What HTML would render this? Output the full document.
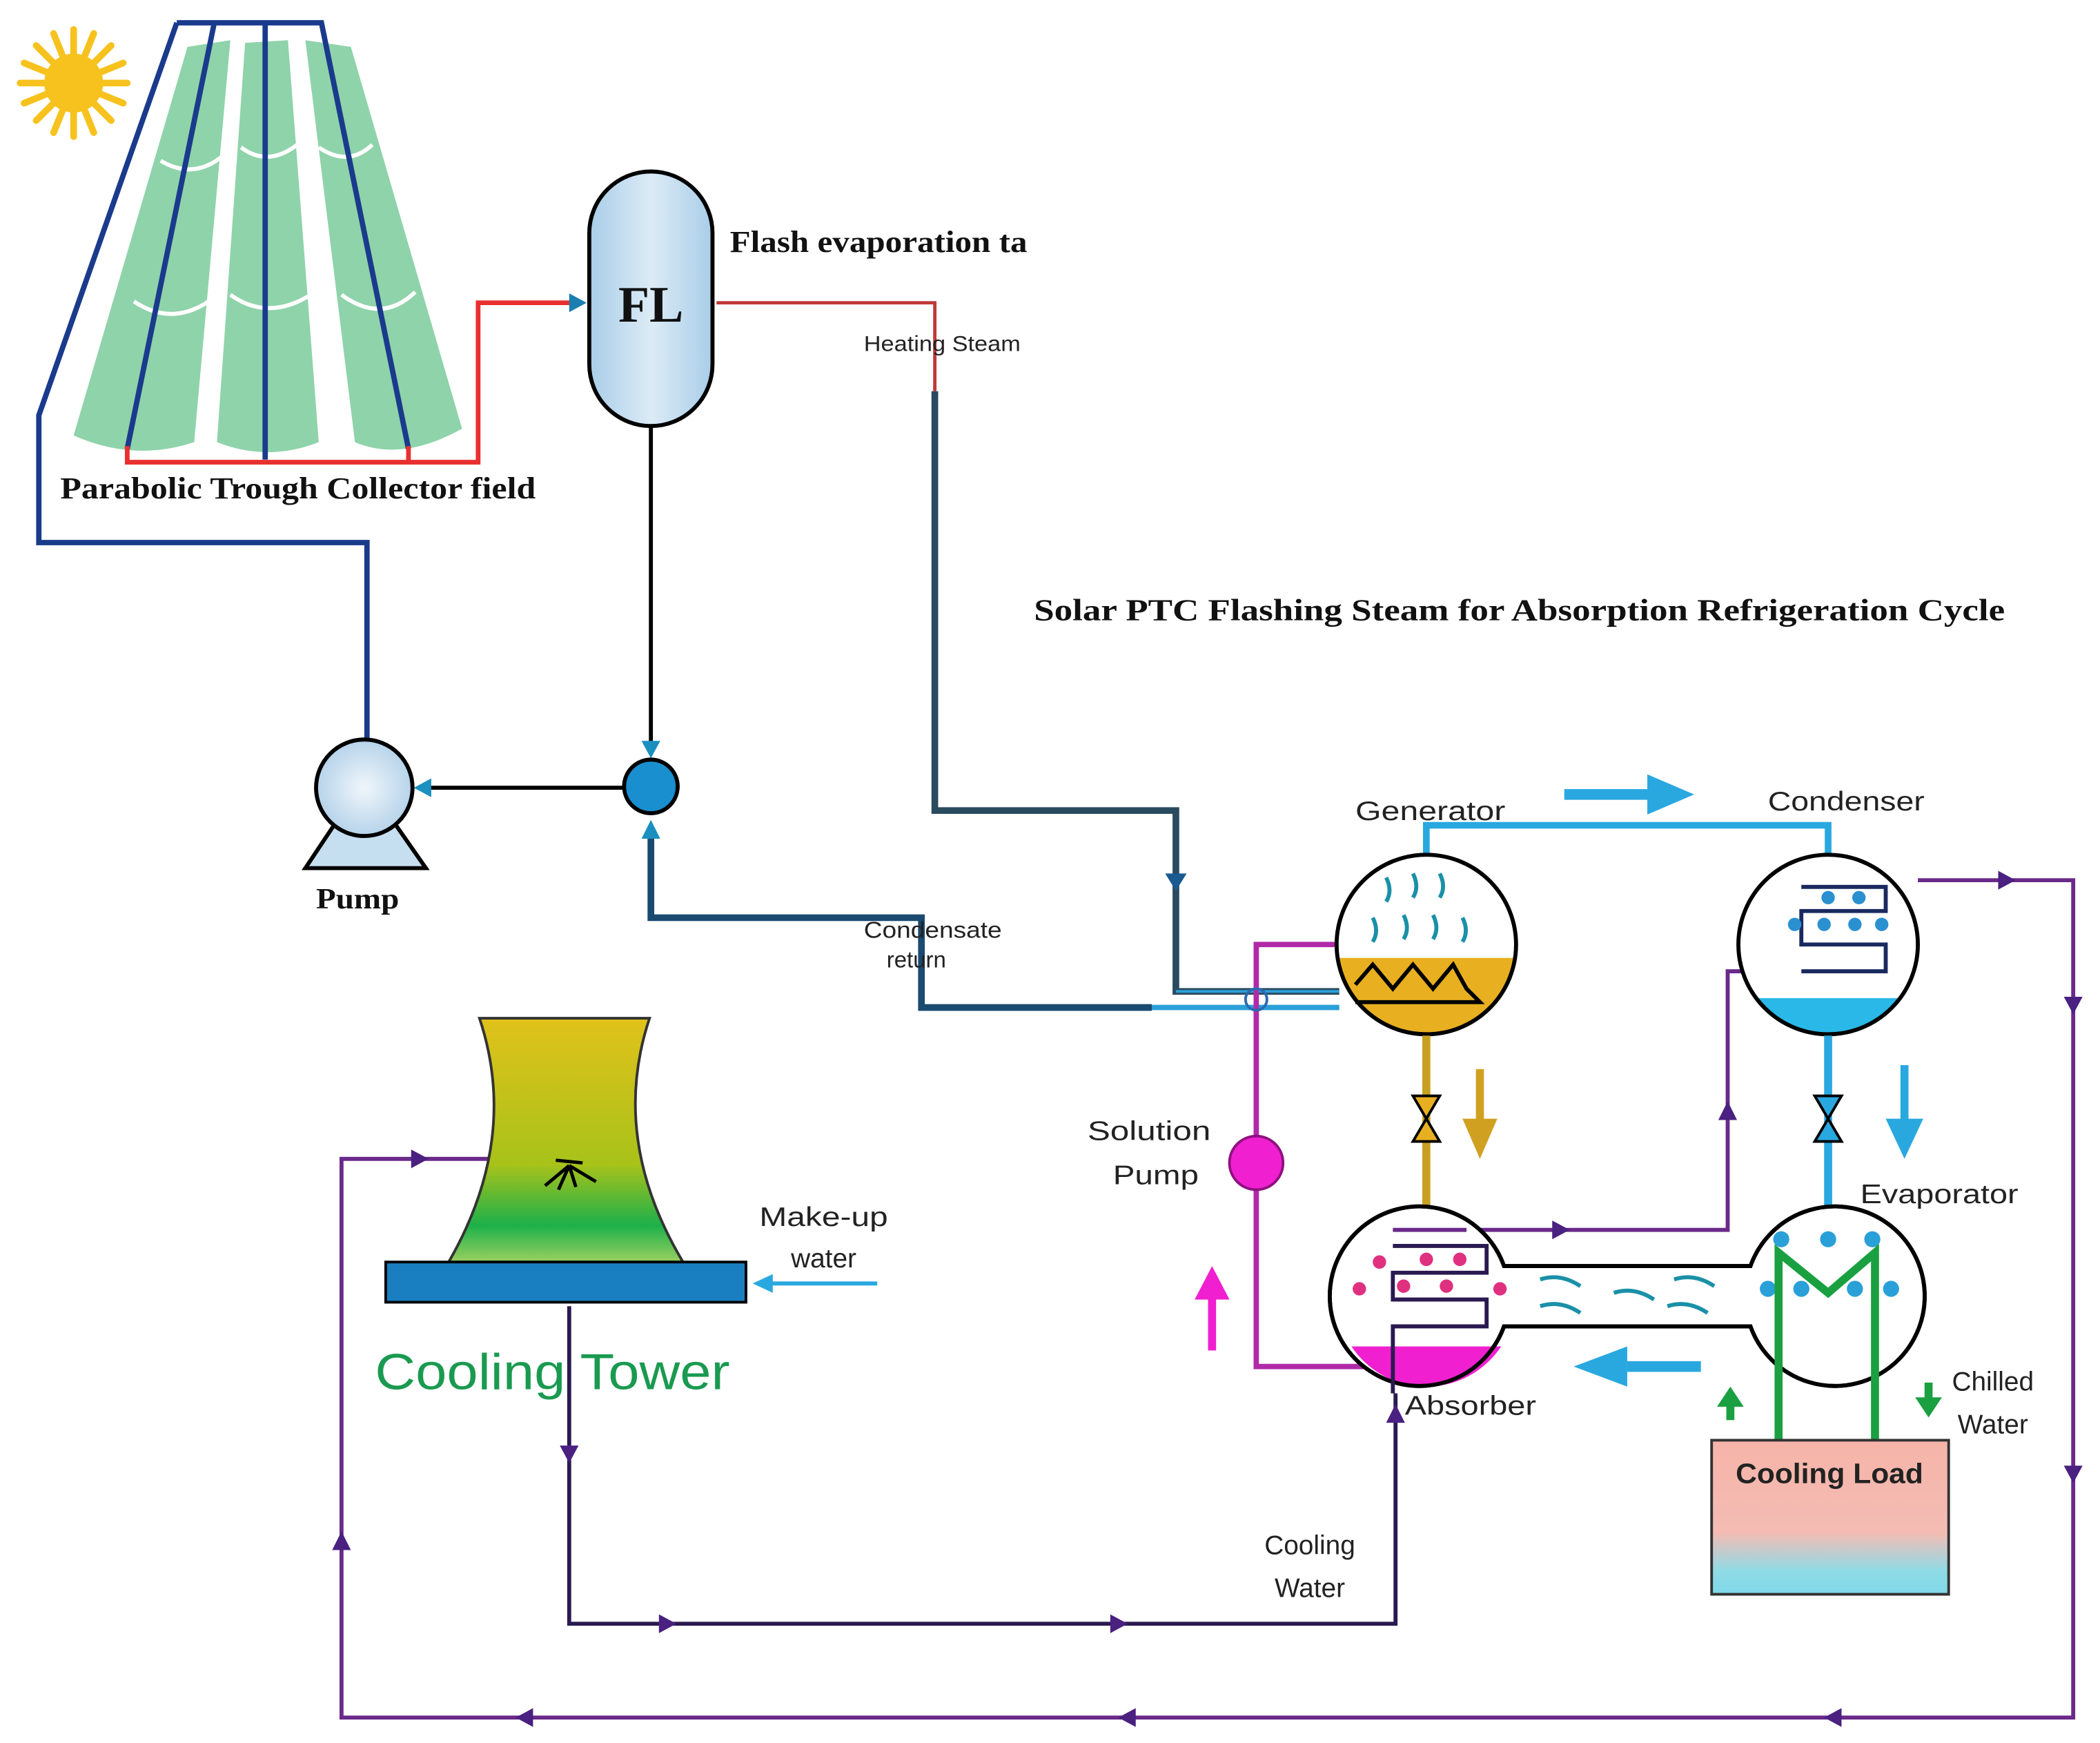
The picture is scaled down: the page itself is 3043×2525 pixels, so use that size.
<!DOCTYPE html>
<html><head><meta charset="utf-8"><style>
html,body{margin:0;padding:0;background:#fff}
svg{display:block}
.s{font-family:"Liberation Serif",serif;font-weight:bold;fill:#111}
.a{font-family:"Liberation Sans",sans-serif;fill:#222}
</style></head><body>
<svg width="3043" height="2525" viewBox="0 0 1568 1301" preserveAspectRatio="none" xmlns="http://www.w3.org/2000/svg">
<defs>
<linearGradient id="fl" x1="0" x2="1"><stop offset="0" stop-color="#a9cde8"/><stop offset="0.5" stop-color="#dcebf6"/><stop offset="1" stop-color="#a9cde8"/></linearGradient>
<linearGradient id="ct" x1="0" y1="0" x2="0" y2="1"><stop offset="0" stop-color="#e0c21a"/><stop offset="0.6" stop-color="#a8c21a"/><stop offset="0.85" stop-color="#1db04a"/><stop offset="1" stop-color="#9ad060"/></linearGradient>
<linearGradient id="cl" x1="0" y1="0" x2="0" y2="1"><stop offset="0" stop-color="#f6b4a8"/><stop offset="0.6" stop-color="#f4bcb4"/><stop offset="0.85" stop-color="#8fdbe6"/><stop offset="1" stop-color="#7fd8e8"/></linearGradient>
<radialGradient id="pp"><stop offset="0" stop-color="#f0f6fb"/><stop offset="1" stop-color="#b6d3ea"/></radialGradient>
<clipPath id="gb"><circle cx="1065" cy="705" r="67"/></clipPath>
<clipPath id="cb"><circle cx="1365" cy="705" r="67"/></clipPath>
<clipPath id="ab"><circle cx="1065" cy="968" r="67"/></clipPath>
</defs>

<!-- sun -->
<g fill="#f7c21e">
<circle cx="55" cy="62" r="22"/>
<g stroke="#f7c21e" stroke-width="5" stroke-linecap="round">
<line x1="55" y1="22" x2="55" y2="102"/><line x1="15" y1="62" x2="95" y2="62"/>
<line x1="27" y1="34" x2="83" y2="90"/><line x1="83" y1="34" x2="27" y2="90"/>
<line x1="40" y1="25" x2="70" y2="99"/><line x1="70" y1="25" x2="40" y2="99"/>
<line x1="18" y1="47" x2="92" y2="77"/><line x1="92" y1="47" x2="18" y2="77"/>
</g></g>

<!-- troughs -->
<g fill="#8fd3aa">
<path d="M140,35 L172,30 L145,330 Q100,345 55,325 Z"/>
<path d="M183,32 L215,30 L238,330 Q200,345 162,330 Z"/>
<path d="M228,30 L262,35 L345,320 Q300,345 265,330 Z"/>
</g>
<g stroke="#fff" stroke-width="3" fill="none">
<path d="M120,120 Q145,135 168,115"/><path d="M100,225 Q130,245 160,222"/>
<path d="M180,110 Q200,125 222,108"/><path d="M172,220 Q200,240 232,220"/>
<path d="M238,110 Q260,125 278,108"/><path d="M255,220 Q285,242 310,218"/>
</g>
<g stroke="#1a3a8c" stroke-width="4" fill="none">
<polyline points="132,17 240,17 305,335"/>
<polyline points="132,17 29,310 29,405 274,405 274,552"/>
<line x1="160" y1="17" x2="95" y2="335"/>
<line x1="198" y1="17" x2="198" y2="343"/>
</g>
<polyline points="95,333 95,345 357,345 357,226 428,226" stroke="#e83030" stroke-width="3.5" fill="none"/>
<line x1="305" y1="333" x2="305" y2="345" stroke="#e83030" stroke-width="3.5"/>
<polygon points="438,226 425,219 425,233" fill="#1a7fb0"/>
<text x="45" y="372" class="s" font-size="23" textLength="355" lengthAdjust="spacingAndGlyphs">Parabolic Trough Collector field</text>

<!-- FL tank -->
<rect x="440" y="128" width="92" height="190" rx="46" fill="url(#fl)" stroke="#000" stroke-width="3"/>
<text x="486" y="240" class="s" font-size="38" text-anchor="middle">FL</text>
<text x="545" y="188" class="s" font-size="23" textLength="222" lengthAdjust="spacingAndGlyphs">Flash evaporation ta</text>
<polyline points="535,226 698,226 698,292" stroke="#c03838" stroke-width="2.5" fill="none"/>
<text x="645" y="262" class="a" font-size="16" textLength="117" lengthAdjust="spacingAndGlyphs">Heating Steam</text>
<polyline points="698,292 698,605 878,605 878,740 1000,740" stroke="#2a4a60" stroke-width="5" fill="none"/>
<polygon points="878,665 870,652 886,652" fill="#1a5a90"/>
<line x1="486" y1="318" x2="486" y2="560" stroke="#000" stroke-width="3"/>
<polygon points="486,566 479,553 493,553" fill="#1a8fc0"/>
<circle cx="486" cy="587" r="20" fill="#1a8fd0" stroke="#000" stroke-width="3"/>
<line x1="466" y1="588" x2="318" y2="588" stroke="#000" stroke-width="3"/>
<polygon points="309,588 322,581 322,595" fill="#1a8fc0"/>
<polygon points="250,615 295,615 318,648 228,648" fill="#c6dff0" stroke="#000" stroke-width="3"/>
<circle cx="272" cy="588" r="36" fill="url(#pp)" stroke="#000" stroke-width="3"/>
<text x="236" y="678" class="s" font-size="22" textLength="62" lengthAdjust="spacingAndGlyphs">Pump</text>
<polyline points="486,620 486,685 688,685 688,752 860,752" stroke="#1a4a70" stroke-width="5" fill="none"/>
<polygon points="486,612 479,626 493,626" fill="#1a8fc0"/>
<line x1="860" y1="752" x2="1000" y2="752" stroke="#2aa0d8" stroke-width="4"/>
<line x1="878" y1="740" x2="1000" y2="740" stroke="#2aa0d8" stroke-width="2"/>
<text x="645" y="700" class="a" font-size="17" textLength="103" lengthAdjust="spacingAndGlyphs">Condensate</text>
<text x="662" y="722" class="a" font-size="17">return</text>

<text x="772" y="463" class="s" font-size="23" textLength="725" lengthAdjust="spacingAndGlyphs">Solar PTC Flashing Steam for Absorption Refrigeration Cycle</text>

<g stroke="#6a2a8a" stroke-width="3" fill="none">
<polyline points="1432,657 1548,657 1548,1282 255,1282 255,865 415,865"/>
<polyline points="1095,918 1290,918 1290,725 1345,725"/>
</g>
<polyline points="425,975 425,1212 1042,1212 1042,1040" stroke="#2a1a50" stroke-width="3" fill="none"/>
<g fill="#4a2080">
<polygon points="1505,657 1492,650 1492,664"/><polygon points="1548,757 1541,744 1555,744"/><polygon points="1548,1107 1541,1094 1555,1094"/>
<polygon points="1362,1282 1375,1275 1375,1289"/><polygon points="835,1282 848,1275 848,1289"/><polygon points="385,1282 398,1275 398,1289"/>
<polygon points="255,1143 248,1157 262,1157"/><polygon points="320,865 307,858 307,872"/>
<polygon points="425,1092 418,1079 432,1079"/><polygon points="505,1212 492,1205 492,1219"/><polygon points="842,1212 829,1205 829,1219"/>
<polygon points="1042,1048 1035,1062 1049,1062"/><polygon points="1172,918 1159,911 1159,925"/><polygon points="1290,822 1283,836 1297,836"/><polygon points="1335,725 1322,718 1322,732"/>
</g>

<polyline points="1065,640 1065,616 1365,616 1365,640" stroke="#29a8e0" stroke-width="5" fill="none"/>
<line x1="1168" y1="593" x2="1235" y2="593" stroke="#29a8e0" stroke-width="8"/>
<polygon points="1265,593 1230,578 1230,608" fill="#29a8e0"/>
<text x="1012" y="612" class="a" font-size="20" textLength="112" lengthAdjust="spacingAndGlyphs">Generator</text>
<text x="1320" y="605" class="a" font-size="20" textLength="117" lengthAdjust="spacingAndGlyphs">Condenser</text>

<polyline points="1000,705 938,705 938,1020 1030,1020" stroke="#b02aa8" stroke-width="4" fill="none"/>
<circle cx="938" cy="868" r="20" fill="#f020d0" stroke="#901080" stroke-width="2"/>
<line x1="905" y1="1008" x2="905" y2="965" stroke="#f020d0" stroke-width="6"/>
<polygon points="905,945 892,970 918,970" fill="#f020d0"/>
<text x="858" y="851" class="a" font-size="20" text-anchor="middle" textLength="92" lengthAdjust="spacingAndGlyphs">Solution</text>
<text x="863" y="884" class="a" font-size="20" text-anchor="middle" textLength="64" lengthAdjust="spacingAndGlyphs">Pump</text>

<circle cx="1065" cy="705" r="67" fill="#fff"/>
<rect x="995" y="715" width="140" height="60" fill="#e8b020" clip-path="url(#gb)"/>
<polyline points="1012,735 1025,720 1040,738 1055,720 1070,738 1085,720 1095,738 1105,748 1012,748" stroke="#000" stroke-width="3" fill="none"/>
<g stroke="#1a90a8" stroke-width="3" fill="none">
<path d="M1035,655 q5,10 0,18"/><path d="M1055,652 q5,10 0,18"/><path d="M1075,652 q5,10 0,18"/>
<path d="M1025,685 q5,10 0,18"/><path d="M1048,683 q5,10 0,18"/><path d="M1070,683 q5,10 0,18"/><path d="M1092,685 q5,10 0,18"/>
</g>
<circle cx="1065" cy="705" r="67" fill="none" stroke="#000" stroke-width="3"/>
<circle cx="938" cy="746" r="8" fill="none" stroke="#2a6ab0" stroke-width="2"/>

<circle cx="1365" cy="705" r="67" fill="#fff"/>
<rect x="1295" y="745" width="140" height="40" fill="#2ab8e8" clip-path="url(#cb)"/>
<polyline points="1345,725 1408,725 1408,705 1345,705 1345,680 1408,680 1408,662 1345,662" stroke="#1a2a60" stroke-width="3" fill="none"/>
<g fill="#2a90d0"><circle cx="1365" cy="670" r="5"/><circle cx="1388" cy="670" r="5"/><circle cx="1340" cy="690" r="5"/><circle cx="1362" cy="690" r="5"/><circle cx="1385" cy="690" r="5"/><circle cx="1405" cy="690" r="5"/></g>
<circle cx="1365" cy="705" r="67" fill="none" stroke="#000" stroke-width="3"/>

<line x1="1065" y1="773" x2="1065" y2="902" stroke="#c8a020" stroke-width="6"/>
<polygon points="1055,818 1075,818 1055,852 1075,852" fill="#e8b020" stroke="#000" stroke-width="2"/>
<line x1="1105" y1="798" x2="1105" y2="840" stroke="#d0a020" stroke-width="6"/>
<polygon points="1105,865 1092,835 1118,835" fill="#d0a020"/>
<line x1="1365" y1="773" x2="1365" y2="902" stroke="#29a8e0" stroke-width="6"/>
<polygon points="1355,818 1375,818 1355,852 1375,852" fill="#29a8e0" stroke="#000" stroke-width="2"/>
<line x1="1422" y1="795" x2="1422" y2="840" stroke="#29a8e0" stroke-width="6"/>
<polygon points="1422,865 1408,835 1436,835" fill="#29a8e0"/>

<path d="M1123,945 L1307,945 A67,67 0 1 1 1307,990 L1123,990 A67,67 0 1 1 1123,945 Z" fill="#fff" stroke="#000" stroke-width="3"/>
<rect x="995" y="1005" width="140" height="40" fill="#f020d0" clip-path="url(#ab)"/>
<path d="M1123,945 L1307,945 A67,67 0 1 1 1307,990 L1123,990 A67,67 0 1 1 1123,945 Z" fill="none" stroke="#000" stroke-width="3"/>
<polyline points="1040,1040 1040,990 1110,990 1110,970 1040,970 1040,950 1110,950 1110,930 1040,930" stroke="#2a1a50" stroke-width="3" fill="none"/>
<line x1="1040" y1="918" x2="1095" y2="918" stroke="#6a2a8a" stroke-width="3"/>
<g fill="#e03080"><circle cx="1030" cy="942" r="5"/><circle cx="1065" cy="940" r="5"/><circle cx="1090" cy="940" r="5"/><circle cx="1015" cy="962" r="5"/><circle cx="1048" cy="960" r="5"/><circle cx="1080" cy="960" r="5"/><circle cx="1120" cy="962" r="5"/></g>
<g stroke="#1a90a8" stroke-width="3" fill="none">
<path d="M1150,955 q15,-5 30,5"/><path d="M1205,965 q15,-5 30,5"/><path d="M1250,955 q15,-5 30,5"/><path d="M1150,975 q15,-5 30,5"/><path d="M1245,975 q15,-5 30,5"/>
</g>
<g fill="#2aa0d8"><circle cx="1330" cy="925" r="6"/><circle cx="1365" cy="925" r="6"/><circle cx="1398" cy="925" r="6"/><circle cx="1320" cy="962" r="6"/><circle cx="1345" cy="962" r="6"/><circle cx="1385" cy="962" r="6"/><circle cx="1412" cy="962" r="6"/></g>
<polyline points="1328,1075 1328,935 1365,965 1400,935 1400,1075" stroke="#1aa040" stroke-width="6" fill="none"/>
<line x1="1270" y1="1020" x2="1215" y2="1020" stroke="#29a8e0" stroke-width="8"/>
<polygon points="1175,1020 1215,1005 1215,1035" fill="#29a8e0"/>

<rect x="1278" y="1075" width="177" height="115" fill="url(#cl)" stroke="#333" stroke-width="2"/>
<text x="1366" y="1107" class="a" font-size="21" text-anchor="middle" font-weight="bold" textLength="140" lengthAdjust="spacingAndGlyphs">Cooling Load</text>
<line x1="1292" y1="1060" x2="1292" y2="1048" stroke="#1aa040" stroke-width="6"/><polygon points="1292,1035 1282,1050 1302,1050" fill="#1aa040"/>
<line x1="1440" y1="1032" x2="1440" y2="1045" stroke="#1aa040" stroke-width="6"/><polygon points="1440,1058 1430,1043 1450,1043" fill="#1aa040"/>
<text x="1488" y="1038" class="a" font-size="20" text-anchor="middle">Chilled</text>
<text x="1488" y="1070" class="a" font-size="20" text-anchor="middle">Water</text>
<text x="1448" y="898" class="a" font-size="20" text-anchor="middle" textLength="118" lengthAdjust="spacingAndGlyphs">Evaporator</text>
<text x="1098" y="1056" class="a" font-size="20" text-anchor="middle" textLength="98" lengthAdjust="spacingAndGlyphs">Absorber</text>
<text x="978" y="1160" class="a" font-size="20" text-anchor="middle">Cooling</text>
<text x="978" y="1192" class="a" font-size="20" text-anchor="middle">Water</text>

<path d="M358,760 L485,760 Q455,850 510,942 L335,942 Q388,850 358,760 Z" fill="url(#ct)" stroke="#333" stroke-width="2"/>
<g stroke="#000" stroke-width="2.5" fill="none"><line x1="415" y1="866" x2="435" y2="868"/><path d="M425,870 l-18,15 M425,870 l-8,18 M425,870 l5,16 M425,870 l20,12"/></g>
<rect x="288" y="942" width="269" height="30" fill="#1a7fc0" stroke="#000" stroke-width="2"/>
<text x="280" y="1037" class="a" font-size="38" style="fill:#1a9a50" textLength="265" lengthAdjust="spacingAndGlyphs">Cooling Tower</text>
<line x1="655" y1="958" x2="575" y2="958" stroke="#29a8e0" stroke-width="3"/>
<polygon points="562,958 577,951 577,965" fill="#29a8e0"/>
<text x="615" y="915" class="a" font-size="20" text-anchor="middle" textLength="96" lengthAdjust="spacingAndGlyphs">Make-up</text>
<text x="615" y="946" class="a" font-size="20" text-anchor="middle">water</text>
</svg>
</body></html>
